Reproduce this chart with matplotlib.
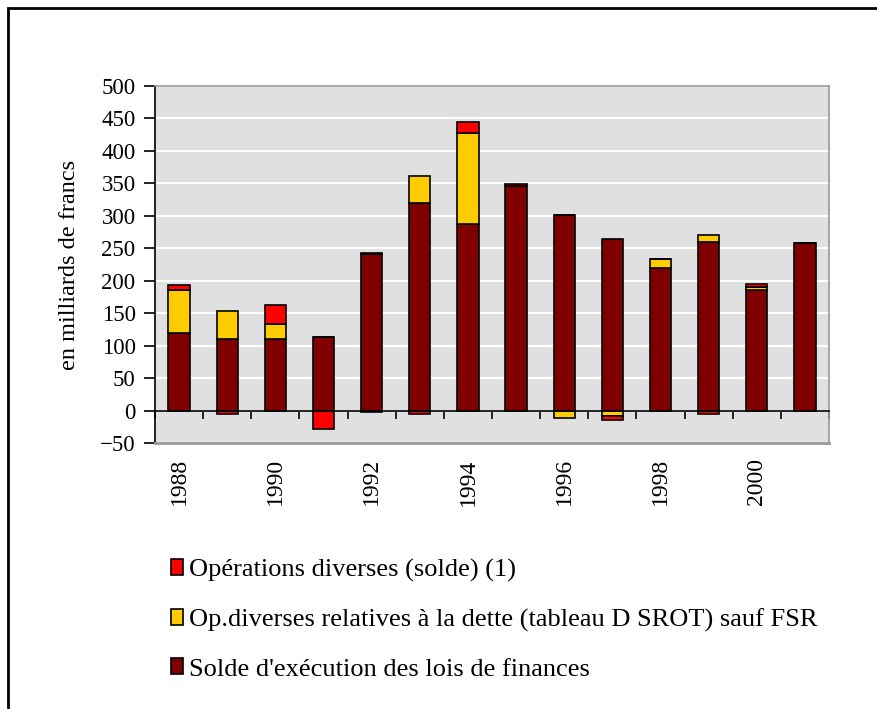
"""
Solde d'exécution des lois de finances et opérations diverses, 1988-2001.
Stacked bars, negatives stacked below zero.
"""

import numpy as np
import matplotlib
matplotlib.use("Agg")
import matplotlib.pyplot as plt
from matplotlib.patches import Rectangle

plt.rcParams["font.family"] = ["Liberation Serif", "DejaVu Serif"]

# Data (milliards de francs)
years    = [1988, 1989, 1990, 1991, 1992, 1993, 1994,
            1995, 1996, 1997, 1998, 1999, 2000, 2001]
solde    = [119, 110, 110, 113, 241, 319, 288, 346, 301, 264, 220, 260, 186, 258]
op_dette = [67, 43, 24, 0, -2, 43, 140, 0, -12, -8, 13, 10, 5, 0]
op_div   = [7, -6, 28, -28, 2, -6, 16, 3, 0, -7, 0, -6, 4, 0]

labels = [
    "Opérations diverses (solde) (1)",
    "Op.diverses relatives à la dette (tableau D SROT) sauf FSR",
    "Solde d'exécution des lois de finances",
]
colors = ["#FF0000", "#FFCC00", "#800000"]

W, H = 878, 709
fig = plt.figure(figsize=(W / 100, H / 100), dpi=100)

# outer frame (only top/left edges fall inside the picture)
fig.patches.append(Rectangle((8 / W, -0.1), 1.2, 1.1 - 8 / H,
                             transform=fig.transFigure, fill=False,
                             edgecolor="black", linewidth=2))

ax = fig.add_axes([155 / W, (H - 443) / H, (829 - 155) / W, (443 - 86) / H])
ax.set_facecolor("#E0E0E0")

x = np.arange(len(years))
pos = np.zeros(len(years))
neg = np.zeros(len(years))
series = [(solde, colors[2]), (op_dette, colors[1]), (op_div, colors[0])]
for vals, col in series:
    v = np.array(vals, dtype=float)
    bottom = np.where(v >= 0, pos, neg)
    ax.bar(x, v, bottom=bottom, width=0.44, color=col,
           edgecolor="black", linewidth=1.2, zorder=3)
    pos = np.where(v >= 0, pos + v, pos)
    neg = np.where(v < 0, neg + v, neg)

ax.set_xlim(-0.5, len(years) - 0.5)
ax.set_ylim(-50, 500)
ax.set_yticks(np.arange(-50, 501, 50))
ax.tick_params(axis="y", direction="out", length=8, width=1.2,
               labelsize=16.5, pad=6)
ax.yaxis.grid(True, color="white", linewidth=1.5, zorder=0)
ax.set_axisbelow(True)
ax.set_ylabel("en milliards de francs", fontsize=17.5, labelpad=14)

# category axis at zero with boundary ticks
ax.spines["bottom"].set_position(("data", 0))
ax.spines["bottom"].set_color("black")
ax.spines["bottom"].set_linewidth(1.2)
ax.spines["bottom"].set_zorder(4)
ax.set_xticks(np.arange(-0.5, len(years), 1.0))
ax.set_xticklabels([])
ax.tick_params(axis="x", direction="out", length=6, width=1.2)

ax.spines["left"].set_color("black")
ax.spines["left"].set_linewidth(1.2)
for s in ["top", "right"]:
    ax.spines[s].set_color("#999999")
    ax.spines[s].set_linewidth(1.2)
ax.axhline(-50, color="#999999", linewidth=2.0, zorder=5, clip_on=False)

# year labels below the plot
sec = ax.secondary_xaxis(0.0)
sec.set_xticks(x[::2])
sec.set_xticklabels([str(y) for y in years[::2]], rotation=90, fontsize=17)
sec.tick_params(axis="x", length=0, pad=11)
sec.spines["bottom"].set_visible(False)

# legend
handles = [Rectangle((0, 0), 1, 1, facecolor=c, edgecolor="black", linewidth=1.2)
           for c in colors]
fig.legend(handles, labels, loc="upper left",
           bbox_to_anchor=(171 / W, 1 - 559 / H), frameon=False,
           fontsize=19, handlelength=0.46, handleheight=0.55,
           handletextpad=0.22, labelspacing=1.0, borderpad=0,
           borderaxespad=0)

fig.savefig("out.png", dpi=100)
